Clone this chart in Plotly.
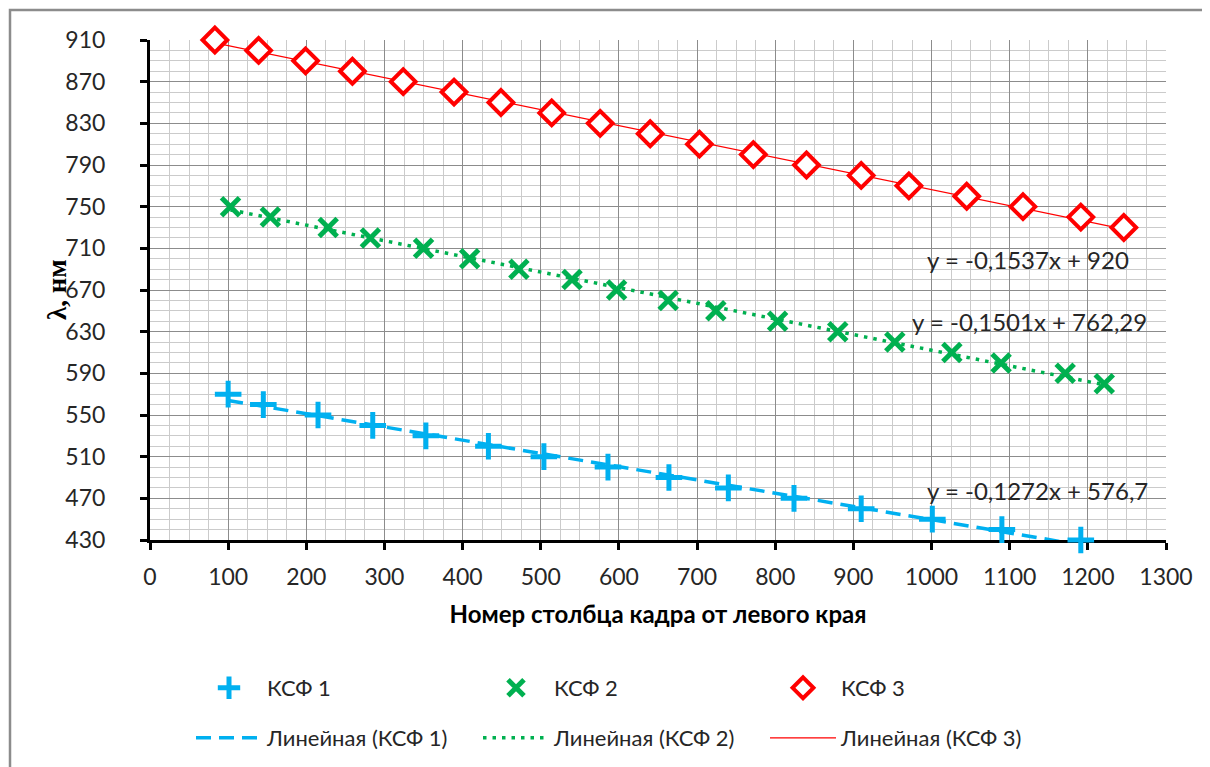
import plotly.graph_objects as go

# ---------------- data ----------------
ksf1_x = [100, 145, 215, 285, 353, 433, 504, 586, 664, 740, 824, 910, 1001, 1090, 1191]
ksf1_y = [570, 560, 550, 540, 530, 520, 510, 500, 490, 480, 470, 460, 450, 440, 430]

ksf2_x = [103, 154, 228, 282, 350, 409, 472, 540, 597, 663, 724, 803, 880, 953, 1026, 1089, 1171, 1221]
ksf2_y = [750, 740, 730, 720, 710, 700, 690, 680, 670, 660, 650, 640, 630, 620, 610, 600, 590, 580]

ksf3_x = [83, 139, 199, 259, 324, 389, 449, 514, 576, 640, 703, 772, 840, 910, 971, 1045, 1117, 1191, 1246]
ksf3_y = [910, 900, 890, 880, 870, 860, 850, 840, 830, 820, 810, 800, 790, 780, 770, 760, 750, 740, 730]

series_names = ["КСФ 1", "КСФ 2", "КСФ 3"]
trend_names = ["Линейная (КСФ 1)", "Линейная (КСФ 2)", "Линейная (КСФ 3)"]
trend_slopes = [-0.1272, -0.1501, -0.1537]
trend_intercepts = [576.7, 762.29, 920.0]
trend_labels = ["y = -0,1272x + 576,7", "y = -0,1501x + 762,29", "y = -0,1537x + 920"]
label_pos = [(991, 478), (972, 640), (991, 699)]  # data coords of label left-middle

x_ticks = list(range(0, 1301, 100))
y_ticks = list(range(430, 911, 40))

x_title = "<b>Номер столбца кадра от левого края</b>"
y_title = "<b>λ, нм</b>"

# ---------------- styles ----------------
BLUE = "#00B0F0"
GREEN = "#00B050"
RED = "#FF0000"
TXT = "#262626"
FONT = "Lato"

# page body has an 8px default margin -> compensate
OFF = 8
W, H = 1210 - OFF, 767 - OFF
L, R, T, B = 150 - OFF, 44, 40 - OFF, 227
PW = W - L - R      # plot width in px
PH = H - T - B      # plot height in px


def px_x(page_x):
    return (page_x - 150) / PW


def px_y(page_y):
    return (540 - page_y) / PH


fig = go.Figure()

xs = [ksf1_x, ksf2_x, ksf3_x]
ys = [ksf1_y, ksf2_y, ksf3_y]

# trend lines (legend 2)
tstyles = [dict(color=BLUE, width=3.5, dash="15px,8px"),
           dict(color=GREEN, width=3.5, dash="3.5px,6px"),
           dict(color=RED, width=1.2)]
for i in range(3):
    x0, x1 = min(xs[i]), max(xs[i])
    fig.add_trace(go.Scatter(
        x=[x0, x1],
        y=[trend_slopes[i] * x0 + trend_intercepts[i], trend_slopes[i] * x1 + trend_intercepts[i]],
        mode="lines", line=tstyles[i], name=trend_names[i], legend="legend2",
        hoverinfo="skip"))

# markers (legend 1)
mstyles = [dict(symbol="cross-thin", size=19, color=BLUE, line=dict(color=BLUE, width=5)),
           dict(symbol="x-thin", size=18, color=GREEN, line=dict(color=GREEN, width=5)),
           dict(symbol="diamond", size=19, color="white", line=dict(color=RED, width=4))]
for i in range(3):
    fig.add_trace(go.Scatter(
        x=xs[i], y=ys[i], mode="markers", marker=mstyles[i], name=series_names[i],
        legend="legend", cliponaxis=False))

for (lx, ly), txt in zip(label_pos, trend_labels):
    fig.add_annotation(x=lx, y=ly, xref="x", yref="y", text=txt, showarrow=False,
                       xanchor="left", yanchor="middle",
                       font=dict(family=FONT, size=24, color=TXT))

# y-axis title
fig.add_annotation(x=px_x(57), y=0.5, xref="paper", yref="paper", text=y_title,
                   textangle=-90, showarrow=False, xanchor="center", yanchor="middle",
                   font=dict(family="Liberation Serif", size=27, color="black"))

# outer chart frame
fig.add_shape(type="rect", xref="paper", yref="paper",
              x0=px_x(10), x1=px_x(1300), y0=px_y(800), y1=px_y(10),
              line=dict(color="#8C8C8C", width=2.5), fillcolor="rgba(0,0,0,0)", layer="below")

legend_common = dict(orientation="h", xanchor="left", yanchor="top",
                     entrywidth=206, entrywidthmode="pixels", itemwidth=66,
                     font=dict(family=FONT, size=22, color=TXT),
                     bgcolor="rgba(0,0,0,0)", tracegroupgap=0)

fig.update_layout(
    width=W, height=H,
    margin=dict(l=L, r=R, t=T, b=B, autoexpand=False),
    paper_bgcolor="white", plot_bgcolor="white",
    font=dict(family=FONT, color=TXT),
    xaxis=dict(
        range=[0, 1300], tickvals=x_ticks, ticks="outside", ticklen=7, tickwidth=3,
        tickcolor="black", showline=True, linecolor="black", linewidth=3,
        showgrid=True, gridcolor="#8C8C8C", gridwidth=1.2, zeroline=False,
        minor=dict(dtick=25, showgrid=True, gridcolor="#CBCBCB", gridwidth=1.2, ticks=""),
        tickfont=dict(family=FONT, size=23, color=TXT), ticklabelstandoff=7,
        title=dict(text=x_title, standoff=18,
                   font=dict(family=FONT, size=24, color="black")),
        layer="below traces"),
    yaxis=dict(
        range=[430, 910], tickvals=y_ticks, ticks="outside", ticklen=7, tickwidth=3,
        tickcolor="black", showline=True, linecolor="black", linewidth=3,
        showgrid=True, gridcolor="#8C8C8C", gridwidth=1.2, zeroline=False,
        minor=dict(dtick=10, showgrid=True, gridcolor="#CBCBCB", gridwidth=1.2, ticks=""),
        tickfont=dict(family=FONT, size=23, color=TXT), ticklabelstandoff=30,
        layer="below traces"),
    legend=dict(x=px_x(191), y=px_y(667), **legend_common),
    legend2=dict(x=px_x(191), y=px_y(717), **legend_common),
    showlegend=True,
)

fig.write_html("out.html")
